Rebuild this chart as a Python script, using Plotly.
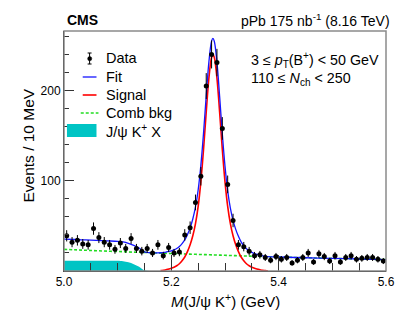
import numpy as np
import plotly.graph_objects as go

# ---------------- data ----------------
bin_lo = 5.0
bin_width = 0.01
counts = [39, 32, 34, 30, 29, 47, 37, 32, 29, 24,
          31, 25, 36, 25, 22, 25, 20, 29, 17, 26,
          20, 21, 40, 48, 76, 105, 205, 240, 231, 158,
          96, 56, 29, 27, 22, 17, 18, 15, 12, 16,
          13, 15, 9, 12, 15, 20, 10, 19, 16, 11,
          17, 10, 15, 17, 13, 14, 15, 15, 13, 11]

# fit components (Events / 10 MeV)
curve_mass = [5.000, 5.020, 5.040, 5.060, 5.080, 5.100, 5.110, 5.120, 5.130, 5.140,
              5.150, 5.160, 5.170,
              5.180, 5.185, 5.190, 5.195, 5.200, 5.205, 5.210, 5.215, 5.220, 5.225,
              5.230, 5.235, 5.240, 5.245, 5.250, 5.255, 5.260, 5.265, 5.270, 5.275,
              5.2775,
              5.280, 5.285, 5.290, 5.295, 5.300, 5.305, 5.310, 5.315, 5.320, 5.325,
              5.330, 5.335, 5.340, 5.345, 5.350, 5.355, 5.360, 5.365, 5.370, 5.375,
              5.380,
              5.400, 5.450, 5.500, 5.550, 5.600]
signal = [0, 0, 0, 0, 0, 0, 0, 0, 0, 0,
          0, 0, 0,
          0.4, 0.8, 1.3, 2.2, 3.0, 4.2, 5.8, 8.0, 11.3, 15.5,
          21.5, 29.1, 39.0, 52.5, 71.6, 98.8, 134.6, 176.0, 213.8, 236.9,
          240.0,
          236.9, 213.8, 176.0, 134.6, 98.8, 71.6, 52.5, 39.0, 29.1, 21.5,
          15.5, 11.3, 8.0, 5.8, 4.2, 3.0, 2.2, 1.3, 0.8, 0.4,
          0.0,
          0, 0, 0, 0, 0]
comb_bkg = [24.0, 23.5, 23.0, 22.5, 22.0, 21.6, 21.4, 21.1, 20.9, 20.7,
            20.5, 20.3, 20.0,
            19.8, 19.7, 19.6, 19.5, 19.4, 19.3, 19.2, 19.1, 19.0, 18.9,
            18.8, 18.7, 18.6, 18.5, 18.4, 18.3, 18.2, 18.1, 18.0, 17.9,
            17.85,
            17.8, 17.7, 17.6, 17.5, 17.4, 17.3, 17.2, 17.1, 17.0, 16.9,
            16.8, 16.7, 16.6, 16.5, 16.4, 16.3, 16.2, 16.1, 16.0, 15.9,
            15.85,
            15.5, 14.7, 14.0, 13.3, 12.7]
jpsi_kx = [11.4, 11.4, 11.4, 11.4, 11.4, 11.3, 10.8, 9.6, 7.6, 4.8,
           0.8, 0, 0,
           0, 0, 0, 0, 0, 0, 0, 0, 0, 0,
           0, 0, 0, 0, 0, 0, 0, 0, 0, 0,
           0,
           0, 0, 0, 0, 0, 0, 0, 0, 0, 0,
           0, 0, 0, 0, 0, 0, 0, 0, 0, 0,
           0,
           0, 0, 0, 0, 0]

x_tick_vals = [5.0, 5.2, 5.4, 5.6]
x_tick_text = ["5.0", "5.2", "5.4", "5.6"]
y_tick_vals = [100, 200]
y_tick_text = ["100", "200"]

# ---------------- derived ----------------
counts_a = np.array(counts, dtype=float)
centers = bin_lo + (np.arange(len(counts)) + 0.5) * bin_width
errors = np.sqrt(counts_a)
cm = np.array(curve_mass)
sig = np.array(signal)
cb = np.array(comb_bkg)
pk = np.array(jpsi_kx)
fit = sig + cb + pk

FONT = "Liberation Sans, Arial, Helvetica, sans-serif"
BLUE = "#1515ff"
RED = "#ff0000"
GREEN = "#22dd22"
CYAN = "#00c4c4"

fig = go.Figure()

pk_mask = cm <= 5.16
fig.add_trace(go.Scatter(x=cm[pk_mask], y=pk[pk_mask], mode="lines", line=dict(width=0, shape="spline"),
                         fill="tozeroy", fillcolor=CYAN, hoverinfo="skip"))
fig.add_trace(go.Scatter(x=cm, y=cb, mode="lines",
                         line=dict(color=GREEN, width=1.6, dash="3px,2px", shape="spline")))
sig_mask = (cm >= 5.175) & (cm <= 5.38)
fig.add_trace(go.Scatter(x=cm[sig_mask], y=sig[sig_mask], mode="lines",
                         line=dict(color=RED, width=1.6, shape="spline")))
fig.add_trace(go.Scatter(x=cm, y=fit, mode="lines",
                         line=dict(color=BLUE, width=1.3, shape="spline")))
fig.add_trace(go.Scatter(x=centers, y=counts_a, mode="markers",
                         marker=dict(color="black", size=5, symbol="circle"),
                         error_y=dict(type="data", array=errors, visible=True,
                                      color="black", thickness=1, width=0)))

# plot area in pixels
L, R, T, B = 64, 391, 31, 271
W, H = R - L, B - T


def px(xp):
    return (xp - L) / W


def py(yp):
    return (B - yp) / H


shapes = []
# frame (top/right appear grey)
shapes.append(dict(type="rect", xref="paper", yref="paper", x0=0, x1=1, y0=0, y1=1,
                   line=dict(color="#8a8a8a", width=1.5), layer="above"))
# legend symbols
shapes.append(dict(type="line", xref="paper", yref="paper", x0=px(90), x1=px(90), y0=py(53), y1=py(64),
                   line=dict(color="black", width=1)))
shapes.append(dict(type="line", xref="paper", yref="paper", x0=px(88), x1=px(92), y0=py(53), y1=py(53),
                   line=dict(color="black", width=1)))
shapes.append(dict(type="line", xref="paper", yref="paper", x0=px(88), x1=px(92), y0=py(64), y1=py(64),
                   line=dict(color="black", width=1)))
shapes.append(dict(type="circle", xref="paper", yref="paper", x0=px(88), x1=px(92.2), y0=py(56.6), y1=py(60.8),
                   fillcolor="black", line=dict(color="black", width=0.5)))
shapes.append(dict(type="line", xref="paper", yref="paper", x0=px(83), x1=px(97), y0=py(77), y1=py(77),
                   line=dict(color=BLUE, width=1.3)))
shapes.append(dict(type="line", xref="paper", yref="paper", x0=px(83), x1=px(97), y0=py(95), y1=py(95),
                   line=dict(color=RED, width=1.6)))
shapes.append(dict(type="line", xref="paper", yref="paper", x0=px(81), x1=px(99), y0=py(113), y1=py(113),
                   line=dict(color=GREEN, width=1.6, dash="3px,2px")))
shapes.append(dict(type="rect", xref="paper", yref="paper", x0=px(67), x1=px(97), y0=py(137), y1=py(124),
                   fillcolor=CYAN, line=dict(width=0)))

ann = []


def text(xp, yp, s, size=14, xanchor="left", yanchor="middle", **kw):
    ann.append(dict(x=px(xp), y=py(yp), xref="paper", yref="paper", text=s, showarrow=False,
                    xanchor=xanchor, yanchor=yanchor, font=dict(family=FONT, size=size, color="black"), **kw))


text(65, 20, "<b>CMS</b>", size=14)
text(397, 20, "pPb 175 nb<sup>-1</sup> (8.16 TeV)", size=14, xanchor="right")
text(105, 58, "Data", size=14.5)
text(105, 77, "Fit", size=14.5)
text(105, 95, "Signal", size=14.5)
text(105, 113, "Comb bkg", size=14.5)
text(105, 131, "J/ψ K<sup>+</sup> X", size=14.5)
text(252, 60, "3 ≤ <i>p</i><sub>T</sub>(B<sup>+</sup>) &lt; 50 GeV", size=14.3)
text(252, 79, "110 ≤ <i>N</i><sub>ch</sub> &lt; 250", size=14.3)
text(227.5, 300, "<i>M</i>(J/ψ K<sup>+</sup>) (GeV)", size=15, xanchor="center")
text(27, 146, "Events / 10 MeV", size=15.5, xanchor="center", textangle=-90)

fig.update_layout(
    width=407, height=315,
    margin=dict(l=L, r=407 - R, t=T, b=315 - B, pad=0),
    paper_bgcolor="white", plot_bgcolor="white",
    showlegend=False,
    font=dict(family=FONT, size=12, color="black"),
    shapes=shapes, annotations=ann,
    xaxis=dict(range=[5.0, 5.6], tickmode="array", tickvals=x_tick_vals, ticktext=x_tick_text,
               ticks="inside", ticklen=16, tickwidth=1, tickcolor="#333",
               showline=True, linecolor="black", linewidth=1, mirror=False,
               showgrid=False, zeroline=False, tickfont=dict(size=12),
               minor=dict(tickmode="array", tickvals=[5.05, 5.1, 5.15, 5.25, 5.3, 5.35, 5.45, 5.5, 5.55],
                          ticks="inside", ticklen=8, tickcolor="#333", showgrid=False)),
    yaxis=dict(range=[0, 266], tickmode="array", tickvals=y_tick_vals, ticktext=y_tick_text,
               ticks="inside", ticklen=10, tickwidth=1, tickcolor="#333",
               showline=True, linecolor="black", linewidth=1, mirror=False,
               showgrid=False, zeroline=False, tickfont=dict(size=12),
               minor=dict(tickmode="array", tickvals=[20, 40, 60, 80, 120, 140, 160, 180, 220, 240, 260],
                          ticks="inside", ticklen=5, tickcolor="#333", showgrid=False)),
)

fig.write_html("out.html", config={"displayModeBar": False, "staticPlot": True},
               post_script="document.body.style.margin='0px';document.body.style.overflow='hidden';")
